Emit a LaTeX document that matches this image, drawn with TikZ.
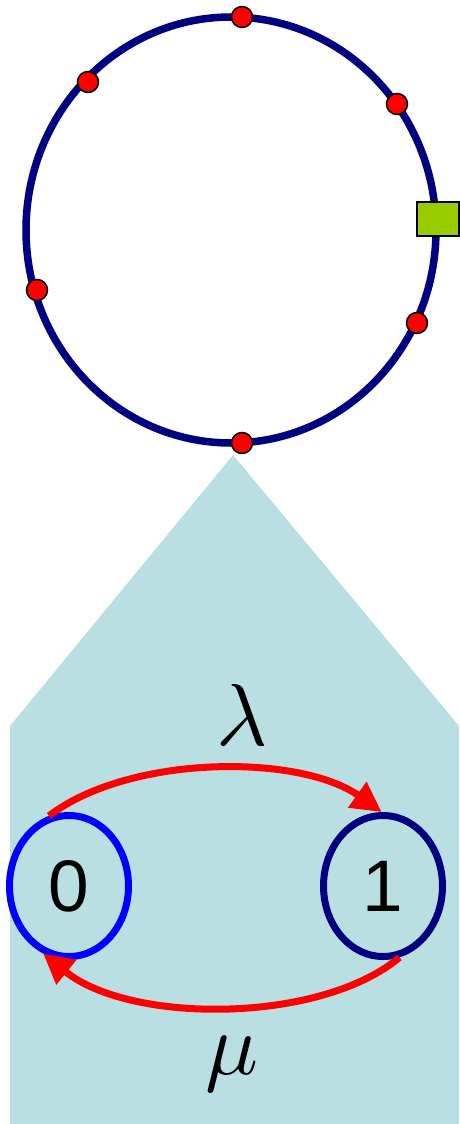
\documentclass[tikz,border=0pt]{standalone}
\usepackage{fontspec}
\usepackage{graphicx}
\newfontfamily\digitfont{Liberation Sans}
\usetikzlibrary{shapes.geometric,arrows.meta}
\definecolor{navy}{HTML}{000080}
\definecolor{pureblue}{HTML}{0000FF}
\definecolor{pured}{HTML}{FF0000}
\definecolor{tealbg}{HTML}{BADFE2}
\definecolor{limegreen}{HTML}{99CC00}
\tikzset{
  dot/.style={circle,fill=pured,draw=black,line width=1.5pt,minimum size=21pt,inner sep=0pt},
  statenode/.style={ellipse,line width=7pt,minimum width=119pt,minimum height=141pt,inner sep=0pt,font=\digitfont\fontsize{73}{80}\selectfont},
  trans/.style={draw=pured,line width=7pt,-{Triangle[length=30pt,width=30pt]}},
  lbl/.style={inner sep=0pt}
}
\begin{document}
\begin{tikzpicture}[x=1pt,y=-1pt]
\useasboundingbox (0,0) rectangle (460,1124);
% teal background shape
\fill[tealbg] (10,726) -- (233,455) -- (459,726) -- (459,1124) -- (10,1124) -- cycle;
% ring
\draw[navy,line width=7.5pt] (231,230) ellipse [x radius=205, y radius=213];
% dots
\node[dot] (d1) at (242,17) {};
\node[dot] (d2) at (88,82) {};
\node[dot] (d3) at (397,104) {};
\node[dot] (d4) at (37,290) {};
\node[dot] (d5) at (417,323) {};
\node[dot] (d6) at (242,443) {};
% green square
\node[draw=black,line width=1.2pt,fill=limegreen,minimum width=42pt,minimum height=34pt,inner sep=0pt] (sq) at (438,219) {};
% states
\node[statenode,draw=pureblue] (n0) at (69,886) {0};
\node[statenode,draw=navy] (n1) at (383,886) {1};
% transitions
\draw[trans] (n0.106) .. controls (130,754) and (300,754) .. (n1.91);
\draw[trans] (n1.283) .. controls (320,1024) and (130,1024) .. (n0.249);
% labels
\node[lbl] (lam) at (242,715) {\scalebox{8.8}{$\lambda$}};
\node[lbl] (mu) at (232,1064) {\scalebox{8.8}{$\mu$}};
\end{tikzpicture}
\end{document}
